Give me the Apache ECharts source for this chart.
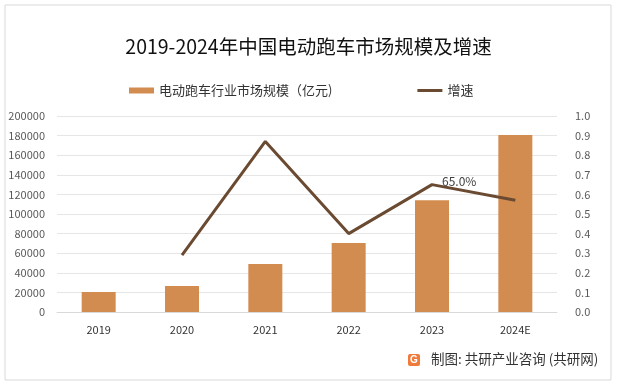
<!DOCTYPE html>
<html><head><meta charset="utf-8">
<script src="https://cdn.jsdelivr.net/npm/echarts@6/dist/echarts.min.js"></script>
<style>html,body{margin:0;padding:0;background:#fff}#c{width:617px;height:386px}</style>
</head><body><div id="c"></div>
<script>
const categories = ['2019','2020','2021','2022','2023','2024E'];
const marketSize = [20400, 26500, 49000, 70400, 114000, 180500];
const growth = [null, 0.29, 0.87, 0.40, 0.65, 0.57];
const leftTicks = [0, 200000, 20000];
const rightTicks = [0, 1, 0.1];
const labelIndex = 4;

const chart = echarts.init(document.getElementById('c'));
const font = '"Microsoft YaHei","Noto Sans CJK SC",sans-serif';
chart.setOption({
  animation: false,
  textStyle: {fontFamily: font},
  title: {text: '2019-2024年中国电动跑车市场规模及增速', left: 'center', top: 32,
    textStyle: {fontSize: 19.5, fontWeight: 'normal', color: '#111', fontFamily: font}},
  legend: {top: 79, left: 124, itemGap: 85, itemWidth: 25, itemHeight: 6,
    textStyle: {fontSize: 13, color: '#333'},
    data: [{name: '电动跑车行业市场规模（亿元)', icon: 'rect'},
           {name: '增速', icon: 'path://M0,0 L25,0 L25,3 L0,3 Z'}]},
  grid: {left: 57, right: 60, top: 116, bottom: 74, outerBoundsMode: 'none', containLabel: false},
  xAxis: {type: 'category', data: categories,
    axisLine: {lineStyle: {color: '#d9d9d9'}}, axisTick: {show: false},
    axisLabel: {color: '#333', fontSize: 11, margin: 12}},
  yAxis: [
    {type: 'value', min: leftTicks[0], max: leftTicks[1], interval: leftTicks[2],
     axisLabel: {color: '#595959', fontSize: 11, margin: 12, formatter: v => String(v)},
     splitLine: {lineStyle: {color: '#e6e6e6'}}, axisLine: {show: false}},
    {type: 'value', min: rightTicks[0], max: rightTicks[1], interval: rightTicks[2],
     axisLabel: {color: '#595959', fontSize: 11, margin: 18, formatter: v => v.toFixed(1)},
     splitLine: {show: false}, axisLine: {show: false}}
  ],
  series: [
    {name: '电动跑车行业市场规模（亿元)', type: 'bar', data: marketSize, barWidth: 34,
     itemStyle: {color: '#d38c4f'}},
    {name: '增速', type: 'line', yAxisIndex: 1, symbol: 'circle', symbolSize: 0, showSymbol: true,
     lineStyle: {color: '#6b4a32', width: 3}, itemStyle: {color: '#6b4a32'},
     data: growth.map((v, i) => ({value: v, label: {show: i === labelIndex, position: 'right', distance: 10, offset: [0, -3],
       formatter: p => (p.value * 100).toFixed(1) + '%', color: '#404040', fontSize: 12}}))}
  ],
  graphic: [
    {type: 'rect', shape: {x: 5, y: 5, width: 606, height: 375}, style: {fill: 'none', stroke: '#d9d9d9', lineWidth: 1}, silent: true},
    {type: 'rect', shape: {x: 408, y: 354, width: 12, height: 12, r: 2}, style: {fill: '#f07a3a'}},
    {type: 'text', x: 410, y: 355, style: {text: 'G', fill: '#fff', font: 'bold 10px sans-serif'}},
    {type: 'text', x: 431, y: 352, style: {text: '制图: 共研产业咨询 (共研网)', fill: '#333', font: '13.5px ' + font}}
  ]
});
</script></body></html>
